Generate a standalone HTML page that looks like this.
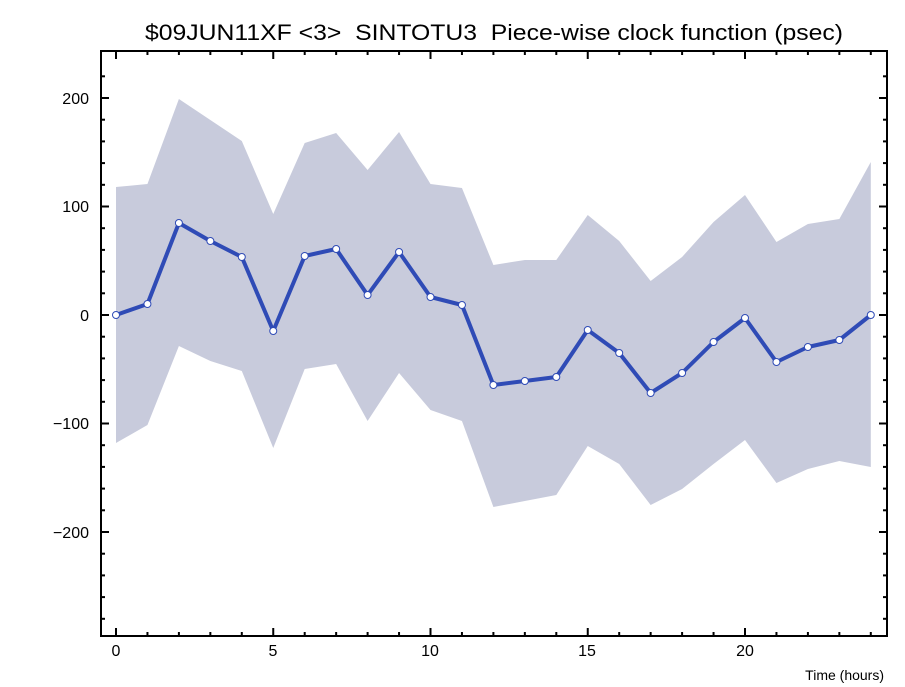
<!DOCTYPE html>
<html><head><meta charset="utf-8"><style>
html,body{margin:0;padding:0;background:#fff;width:905px;height:687px;overflow:hidden}
svg{display:block}
text{font-family:"Liberation Sans","DejaVu Sans",sans-serif;fill:#000}
</style></head><body>
<svg id="s" width="905" height="687" viewBox="0 0 905 687">
<polygon id="band" fill="#c8cbdc" points=""/>
<polyline id="ln" fill="none" stroke="#2f4bb6" stroke-width="4" stroke-linejoin="round" points=""/>
<g id="pts"></g>
<rect x="101" y="51" width="786" height="585" fill="none" stroke="#000" stroke-width="2"/>
<g id="ticks" stroke="#000" stroke-width="2"></g>
<text x="145" y="40" font-size="22" style="white-space:pre" textLength="698" lengthAdjust="spacingAndGlyphs">$09JUN11XF &lt;3&gt;  SINTOTU3  Piece-wise clock function (psec)</text>
<g font-size="16" text-anchor="end">
<text x="89" y="104">200</text>
<text x="89" y="212">100</text>
<text x="89" y="321">0</text>
<text x="89" y="429">−100</text>
<text x="89" y="538">−200</text>
</g>
<g font-size="16" text-anchor="middle">
<text x="116" y="656">0</text>
<text x="273" y="656">5</text>
<text x="430" y="656">10</text>
<text x="587" y="656">15</text>
<text x="745" y="656">20</text>
</g>
<text x="884" y="680" font-size="14" text-anchor="end">Time (hours)</text>
</svg>
<script>
var X=function(h){return 116+h*31.45};
var mid=[315,304,223,241,257,331,256,249,295,252,297,305,385,381,377,330,353,393,373,342,318,362,347,340,315];
var up=[187,184,99,120,141,214,143,133,170,132,184,188,265,260,260,215,241,281,257,222,195,242,224,219,162];
var lo=[443,425,346,361,371,448,369,364,421,373,410,421,507,501,495,446,464,505,489,464,440,483,469,461,467];
var p=[],q=[];
for(var i=0;i<25;i++){p.push(X(i)+","+up[i]);}
for(var i=24;i>=0;i--){p.push(X(i)+","+lo[i]);}
document.getElementById('band').setAttribute('points',p.join(' '));
for(var i=0;i<25;i++)q.push(X(i)+","+mid[i]);
document.getElementById('ln').setAttribute('points',q.join(' '));
var g=document.getElementById('pts'),h='';
for(var i=0;i<25;i++)h+='<circle cx="'+X(i)+'" cy="'+mid[i]+'" r="3.5" fill="#fff" stroke="#2f4bb6" stroke-width="1"/>';
g.innerHTML=h;
var t='';
for(var i=0;i<=24;i++){var x=X(i),L=(i%5==0)?8:4;t+='<line x1="'+x+'" y1="636" x2="'+x+'" y2="'+(636-L)+'"/><line x1="'+x+'" y1="51" x2="'+x+'" y2="'+(51+L)+'"/>';}
for(var v=-280;v<=220;v+=20){var y=315-v*1.085;if(y<53||y>634)continue;var L=(v%100==0)?8:4;t+='<line x1="101" y1="'+y+'" x2="'+(101+L)+'" y2="'+y+'"/><line x1="887" y1="'+y+'" x2="'+(887-L)+'" y2="'+y+'"/>';}
document.getElementById('ticks').innerHTML=t;
</script>
</body></html>
